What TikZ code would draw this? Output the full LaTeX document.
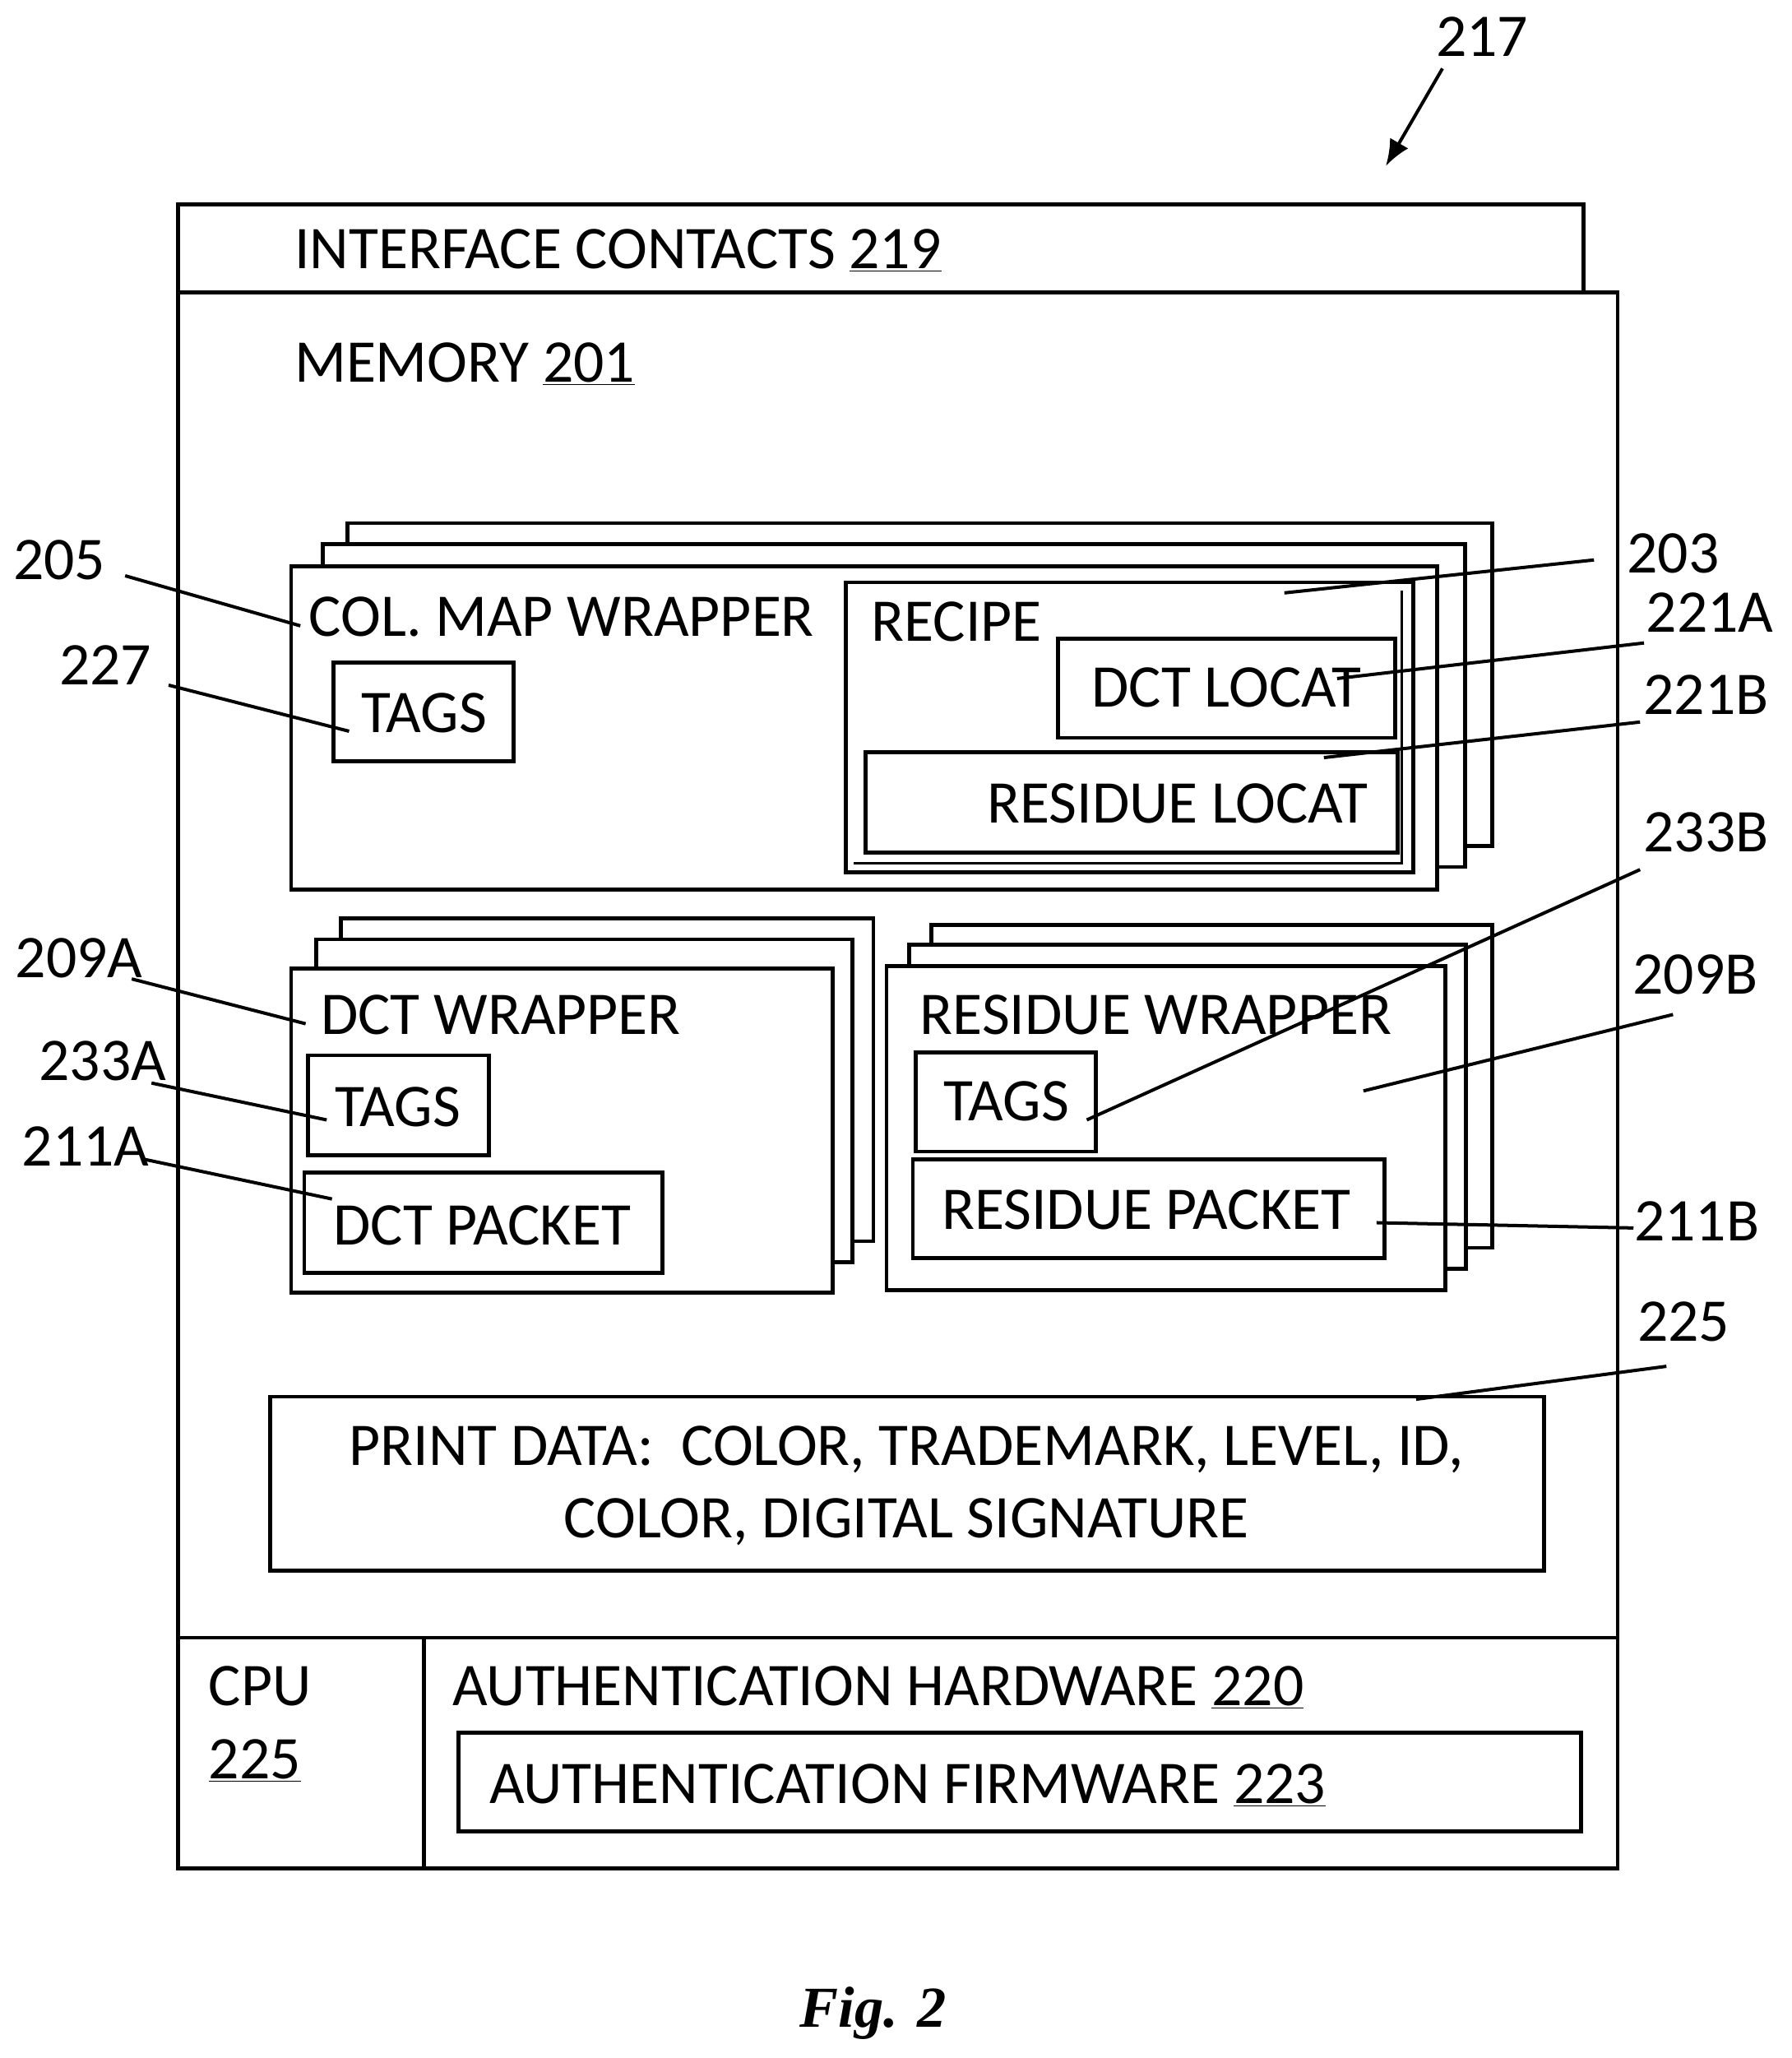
\documentclass[tikz,border=0pt]{standalone}
\usepackage{fontspec}
\setmainfont{Carlito}
\newfontfamily\figfont{Liberation Serif}
\usetikzlibrary{arrows.meta}
\begin{document}
\begin{tikzpicture}[x=1pt,y=-1pt,line width=3pt,
  bx/.style={draw,fill=white},
  t/.style={font=\fontsize{46}{50}\selectfont,inner sep=0pt},
  ld/.style={line width=2.5pt}]
\useasboundingbox (0,0) rectangle (1360,1562);
% outer
\draw[bx] (135,155) rectangle (1202,222);
\draw[bx] (135,222) rectangle (1228,1243);
\draw[bx] (135,1243) rectangle (322,1418);
\draw[bx] (322,1243) rectangle (1228,1418);
\draw[bx] (348,1315) rectangle (1200,1390);
\node[t,anchor=west] (ic) at (222,190) {INTERFACE CONTACTS \underline{219}};
\node[t,anchor=west] (mem) at (222,276) {MEMORY \underline{201}};
\node[t,anchor=west] (cpu) at (157,1280) {CPU};
\node[t,anchor=west] (cpun) at (157,1336) {\underline{225}};
\node[t,anchor=west] (ah) at (342,1281) {AUTHENTICATION HARDWARE \underline{220}};
\node[t,anchor=west] (af) at (370,1355) {AUTHENTICATION FIRMWARE \underline{223}};
% col map wrapper stack
\draw[bx] (264,397) rectangle (1133,642);
\draw[bx] (245,413) rectangle (1112,658);
\draw[bx] (221,430) rectangle (1091,675);
\draw[bx] (642,442) rectangle (1073,662);
\draw[line width=2pt] (1064,448) -- (1064,655) -- (648,655);
\draw[bx] (803,485) rectangle (1059,560);
\draw[bx] (657,571) rectangle (1061,647);
\draw[bx] (253,503) rectangle (390,578);
\node[t,anchor=west] (cmw) at (233,468) {COL. MAP WRAPPER};
\node[t,anchor=west] (rec) at (660,472) {RECIPE};
\node[t] (dl) at (931,522) {DCT LOCAT};
\node[t,anchor=east] (rl) at (1040,610) {RESIDUE LOCAT};
\node[t] (tg1) at (322,541) {TAGS};
% dct wrapper stack
\draw[bx] (259,697) rectangle (663,942);
\draw[bx] (240,713) rectangle (647,958);
\draw[bx] (221,735) rectangle (632,981);
\draw[bx] (234,801) rectangle (371,877);
\draw[bx] (231,890) rectangle (503,966);
\node[t,anchor=west] (dw) at (242,770) {DCT WRAPPER};
\node[t] (tg2) at (302,840) {TAGS};
\node[t] (dp) at (366,930) {DCT PACKET};
% residue wrapper stack
\draw[bx] (707,702) rectangle (1133,947);
\draw[bx] (690,717) rectangle (1113,963);
\draw[bx] (673,733) rectangle (1097,979);
\draw[bx] (695,799) rectangle (832,874);
\draw[bx] (693,880) rectangle (1051,955);
\node[t,anchor=west] (rw) at (697,770) {RESIDUE WRAPPER};
\node[t] (tg3) at (764,836) {TAGS};
\node[t] (rp) at (870,918) {RESIDUE PACKET};
% print data
\draw[bx] (205,1060) rectangle (1172,1192);
\node[t] (pd1) at (688,1100) {PRINT DATA:\ \ COLOR, TRADEMARK, LEVEL, ID,};
\node[t] (pd2) at (688,1155) {COLOR, DIGITAL SIGNATURE};
% reference labels
\node[t] (l217) at (1125,28) {217};
\node[t] (l205) at (45,425) {205};
\node[t] (l227) at (80,505) {227};
\node[t] (l203) at (1270,420) {203};
\node[t] (l221a) at (1298,465) {221A};
\node[t] (l221b) at (1295,527) {221B};
\node[t] (l233b) at (1295,632) {233B};
\node[t] (l209a) at (60,727) {209A};
\node[t] (l209b) at (1287,740) {209B};
\node[t] (l233a) at (78,805) {233A};
\node[t] (l211a) at (65,870) {211A};
\node[t] (l211b) at (1288,927) {211B};
\node[t] (l225) at (1278,1003) {225};
\coordinate (a1) at (1095,52); \coordinate (a2) at (1052,126);
\draw[ld,-{Latex[length=20pt,width=16pt]}] (a1) -- (a2);
\draw[ld] (95,437) -- (228,475);
\draw[ld] (128,520) -- (265,555);
\draw[ld] (1210,425) -- (975,450);
\draw[ld] (1248,488) -- (1015,515);
\draw[ld] (1245,548) -- (1005,575);
\draw[ld] (1245,660) -- (825,850);
\draw[ld] (100,743) -- (232,777);
\draw[ld] (1270,770) -- (1035,828);
\draw[ld] (115,822) -- (248,850);
\draw[ld] (110,880) -- (252,910);
\draw[ld] (1240,932) -- (1045,928);
\draw[ld] (1265,1037) -- (1075,1062);
\node[font=\figfont\bfseries\itshape\fontsize{44}{48}\selectfont] (fig) at (663,1528) {Fig. 2};
\end{tikzpicture}
\end{document}
